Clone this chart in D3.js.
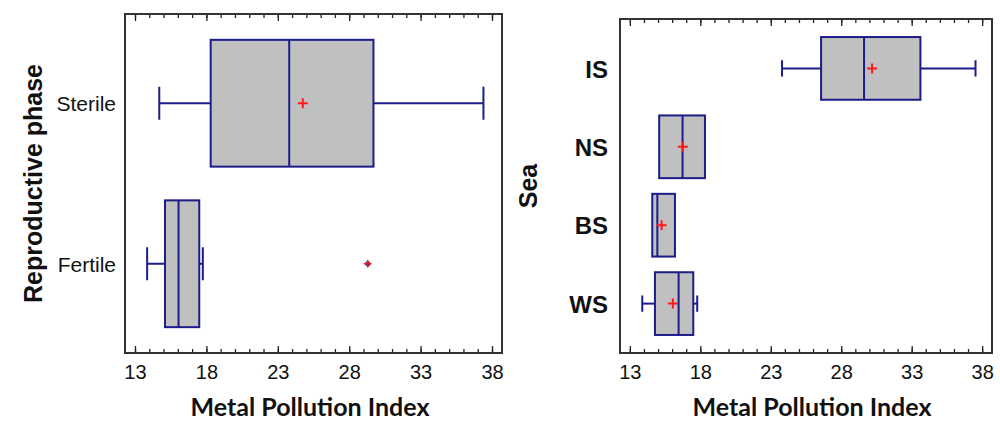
<!DOCTYPE html>
<html>
<head>
<meta charset="utf-8">
<script src="https://cdn.jsdelivr.net/npm/d3@7"></script>
<style>
  body { margin: 0; background: #fff; }
  svg { display: block; }
</style>
</head>
<body>
<div id="chart"></div>
<script>
// Ticks (shared by both panels)
const majorTicks = [13, 18, 23, 28, 33, 38];
const minorTicks = d3.range(13, 39, 1);

// Left panel: reproductive phase
const phaseCats = ["Sterile", "Fertile"];
const phaseLow = [14.7, 13.85];
const phaseQ1 = [18.3, 15.1];
const phaseMed = [23.8, 16.05];
const phaseQ3 = [29.7, 17.5];
const phaseHigh = [37.4, 17.75];
const phaseMean = [24.75, null];
const phaseOut = [[], [29.3]];

// Right panel: sea
const seaCats = ["IS", "NS", "BS", "WS"];
const seaLow = [23.8, 15.08, 14.59, 13.88];
const seaQ1 = [26.57, 15.08, 14.59, 14.78];
const seaMed = [29.62, 16.74, 14.95, 16.46];
const seaQ3 = [33.62, 18.33, 16.2, 17.5];
const seaHigh = [37.53, 18.33, 16.2, 17.78];
const seaMean = [30.19, 16.76, 15.25, 16.05];
const seaOut = [[], [], [], []];

const W = 1000, H = 423;
const boxFill = "#c0c0c0";
const boxStroke = "#1c1c8a";
const meanColor = "#ff1a1a";

const svg = d3.select("#chart").append("svg")
    .attr("width", W)
    .attr("height", H)
    .style("font-family", "'Liberation Sans', Arial, sans-serif");

function panel(opt) {
    const g = svg.append("g");
    const x = d3.scaleLinear().domain([12.3, 38.7]).range([opt.left, opt.right]);
    const y = d3.scalePoint().domain(opt.cats).range([opt.top, opt.bottom]).padding(opt.pad);
    const step = y.step();
    const bh = step * opt.boxFrac;
    const cap = bh * 0.13;

    const rows = opt.cats.map((c, i) => ({
        cat: c, low: opt.low[i], q1: opt.q1[i], med: opt.med[i], q3: opt.q3[i],
        high: opt.high[i], mean: opt.mean[i], out: opt.out[i]
    }));

    // bottom axis (ticks point inward)
    g.append("g")
        .attr("transform", `translate(0,${opt.bottom})`)
        .call(d3.axisBottom(x).tickValues(minorTicks).tickSize(-4).tickFormat(""))
        .call(a => a.select(".domain").remove())
        .call(a => a.selectAll("line").attr("stroke", "#222").attr("stroke-width", 1.3));
    g.append("g")
        .attr("transform", `translate(0,${opt.bottom})`)
        .call(d3.axisBottom(x).tickValues(majorTicks).tickSize(-7).tickPadding(12))
        .call(a => a.select(".domain").remove())
        .call(a => a.selectAll("line").attr("stroke", "#222").attr("stroke-width", 1.3))
        .call(a => a.selectAll("text")
            .attr("fill", "#111")
            .style("font-size", "20px")
            .style("font-family", "'Liberation Sans', Arial, sans-serif"));

    // top axis
    g.append("g")
        .attr("transform", `translate(0,${opt.top})`)
        .call(d3.axisTop(x).tickValues(minorTicks).tickSize(-4).tickFormat(""))
        .call(a => a.select(".domain").remove())
        .call(a => a.selectAll("line").attr("stroke", "#222").attr("stroke-width", 1.3));
    g.append("g")
        .attr("transform", `translate(0,${opt.top})`)
        .call(d3.axisTop(x).tickValues(majorTicks).tickSize(-7).tickFormat(""))
        .call(a => a.select(".domain").remove())
        .call(a => a.selectAll("line").attr("stroke", "#222").attr("stroke-width", 1.3));

    // category axis
    g.append("g")
        .attr("transform", `translate(${opt.labelX},0)`)
        .call(d3.axisLeft(y).tickSize(0).tickPadding(0))
        .call(a => a.select(".domain").remove())
        .call(a => a.selectAll("text")
            .attr("fill", "#111")
            .attr("dy", "0.36em")
            .style("font-size", opt.catSize)
            .style("font-weight", opt.catWeight)
            .style("font-family", "'Liberation Sans', Arial, sans-serif"));

    // frame
    g.append("rect")
        .attr("x", opt.left).attr("y", opt.top)
        .attr("width", opt.right - opt.left).attr("height", opt.bottom - opt.top)
        .attr("fill", "none").attr("stroke", "#333").attr("stroke-width", 2);

    const box = g.selectAll(".box").data(rows).enter().append("g").attr("class", "box");

    // whiskers
    box.filter(d => d.low < d.q1).append("line")
        .attr("x1", d => x(d.low)).attr("x2", d => x(d.q1))
        .attr("y1", d => y(d.cat)).attr("y2", d => y(d.cat))
        .attr("stroke", boxStroke).attr("stroke-width", 2);
    box.filter(d => d.low < d.q1).append("line")
        .attr("x1", d => x(d.low)).attr("x2", d => x(d.low))
        .attr("y1", d => y(d.cat) - cap).attr("y2", d => y(d.cat) + cap)
        .attr("stroke", boxStroke).attr("stroke-width", 2);
    box.filter(d => d.high > d.q3).append("line")
        .attr("x1", d => x(d.q3)).attr("x2", d => x(d.high))
        .attr("y1", d => y(d.cat)).attr("y2", d => y(d.cat))
        .attr("stroke", boxStroke).attr("stroke-width", 2);
    box.filter(d => d.high > d.q3).append("line")
        .attr("x1", d => x(d.high)).attr("x2", d => x(d.high))
        .attr("y1", d => y(d.cat) - cap).attr("y2", d => y(d.cat) + cap)
        .attr("stroke", boxStroke).attr("stroke-width", 2);

    // box
    box.append("rect")
        .attr("x", d => x(d.q1)).attr("y", d => y(d.cat) - bh / 2)
        .attr("width", d => x(d.q3) - x(d.q1)).attr("height", bh)
        .attr("fill", boxFill).attr("stroke", boxStroke).attr("stroke-width", 2);
    box.append("line")
        .attr("x1", d => x(d.med)).attr("x2", d => x(d.med))
        .attr("y1", d => y(d.cat) - bh / 2).attr("y2", d => y(d.cat) + bh / 2)
        .attr("stroke", boxStroke).attr("stroke-width", 2);

    // mean marker
    const m = 5;
    box.filter(d => d.mean != null).append("path")
        .attr("d", d => `M${x(d.mean) - m},${y(d.cat)}h${2 * m}M${x(d.mean)},${y(d.cat) - m}v${2 * m}`)
        .attr("stroke", meanColor).attr("stroke-width", 2).attr("fill", "none");

    // outliers
    const outPts = rows.flatMap(d => d.out.map(v => ({ cat: d.cat, v })));
    g.selectAll(".out-dot").data(outPts).enter().append("circle")
        .attr("cx", d => x(d.v)).attr("cy", d => y(d.cat)).attr("r", 2.5)
        .attr("fill", boxStroke);
    g.selectAll(".out-plus").data(outPts).enter().append("path")
        .attr("d", d => `M${x(d.v) - 4},${y(d.cat)}h8M${x(d.v)},${y(d.cat) - 4}v8`)
        .attr("stroke", meanColor).attr("stroke-width", 1.5);

    // axis titles
    g.append("text")
        .attr("x", opt.titleX).attr("y", 416)
        .attr("text-anchor", "middle")
        .style("font-family", "Lato, 'Open Sans', sans-serif")
        .style("font-weight", "bold")
        .style("font-size", "25px")
        .attr("fill", "#111")
        .text("Metal Pollution Index");

    g.append("text")
        .attr("transform", `translate(${opt.yTitleX},${(opt.top + opt.bottom) / 2}) rotate(-90)`)
        .attr("text-anchor", "middle")
        .style("font-weight", "bold")
        .style("font-size", opt.yTitleSize)
        .attr("fill", "#111")
        .text(opt.yTitle);
}

panel({
    left: 125, right: 502, top: 14, bottom: 353, pad: 0.556, boxFrac: 0.79,
    cats: phaseCats, low: phaseLow, q1: phaseQ1, med: phaseMed, q3: phaseQ3,
    high: phaseHigh, mean: phaseMean, out: phaseOut,
    labelX: 116, catSize: "21px", catWeight: "normal",
    titleX: 310, yTitleX: 42, yTitle: "Reproductive phase", yTitleSize: "25px"
});

panel({
    left: 620, right: 992, top: 19, bottom: 353, pad: 0.63, boxFrac: 0.8,
    cats: seaCats, low: seaLow, q1: seaQ1, med: seaMed, q3: seaQ3,
    high: seaHigh, mean: seaMean, out: seaOut,
    labelX: 608, catSize: "24px", catWeight: "bold",
    titleX: 812, yTitleX: 537, yTitle: "Sea", yTitleSize: "25px"
});
</script>
</body>
</html>
